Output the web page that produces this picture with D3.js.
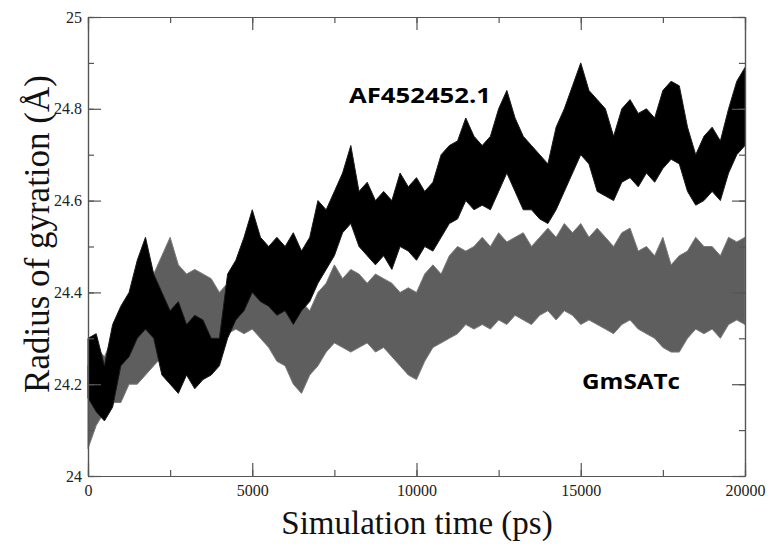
<!DOCTYPE html>
<html>
<head>
<meta charset="utf-8">
<script src="https://cdn.jsdelivr.net/npm/d3@7"></script>
<style>
    body { margin: 0; background: #fff; }
    text { font-family: "Liberation Serif", "Times New Roman", serif; }
</style>
</head>
<body>
<div id="chart"></div>
<script>

// time axis, one sample every 250 ps
let timePs = d3.range(0, 20001, 250);

// AF452452.1 (black) - upper / lower edge of the trace band
let afHigh = [24.30, 24.31, 24.24, 24.33, 24.37, 24.40, 24.47, 24.52, 24.44, 24.40,
    24.36, 24.38, 24.33, 24.35, 24.34, 24.30, 24.30, 24.44, 24.47, 24.52,
    24.58, 24.52, 24.50, 24.52, 24.50, 24.53, 24.49, 24.52, 24.60, 24.58,
    24.62, 24.66, 24.72, 24.62, 24.64, 24.60, 24.62, 24.60, 24.66, 24.63,
    24.65, 24.62, 24.64, 24.70, 24.72, 24.73, 24.78, 24.74, 24.72, 24.74,
    24.80, 24.84, 24.78, 24.74, 24.72, 24.70, 24.68, 24.76, 24.80, 24.85,
    24.90, 24.84, 24.82, 24.80, 24.74, 24.80, 24.82, 24.79, 24.80, 24.78,
    24.84, 24.86, 24.85, 24.76, 24.70, 24.74, 24.76, 24.73, 24.80, 24.86, 24.89];
let afLow = [24.17, 24.14, 24.12, 24.15, 24.24, 24.26, 24.30, 24.32, 24.30, 24.22,
    24.20, 24.18, 24.22, 24.19, 24.21, 24.22, 24.24, 24.30, 24.34, 24.36,
    24.40, 24.38, 24.37, 24.35, 24.36, 24.33, 24.36, 24.38, 24.42, 24.45,
    24.48, 24.53, 24.55, 24.50, 24.48, 24.46, 24.48, 24.45, 24.50, 24.49,
    24.47, 24.50, 24.49, 24.52, 24.55, 24.56, 24.60, 24.58, 24.59, 24.58,
    24.62, 24.66, 24.62, 24.58, 24.58, 24.56, 24.55, 24.58, 24.62, 24.66,
    24.70, 24.68, 24.62, 24.61, 24.60, 24.64, 24.65, 24.63, 24.66, 24.64,
    24.67, 24.69, 24.68, 24.62, 24.59, 24.60, 24.62, 24.60, 24.66, 24.70, 24.72];

// GmSATc (grey)
let gmHigh = [24.24, 24.28, 24.26, 24.30, 24.30, 24.34, 24.36, 24.40, 24.44, 24.48,
    24.52, 24.46, 24.44, 24.45, 24.44, 24.43, 24.40, 24.42, 24.44, 24.43,
    24.46, 24.43, 24.40, 24.38, 24.40, 24.37, 24.38, 24.36, 24.40, 24.42,
    24.46, 24.43, 24.45, 24.44, 24.42, 24.44, 24.43, 24.42, 24.40, 24.41,
    24.40, 24.44, 24.46, 24.44, 24.48, 24.50, 24.49, 24.50, 24.52, 24.50,
    24.53, 24.51, 24.52, 24.53, 24.50, 24.52, 24.54, 24.52, 24.55, 24.53,
    24.55, 24.52, 24.54, 24.52, 24.50, 24.53, 24.54, 24.49, 24.50, 24.48,
    24.52, 24.46, 24.48, 24.49, 24.52, 24.50, 24.50, 24.48, 24.52, 24.51, 24.52];
let gmLow = [24.06, 24.11, 24.14, 24.16, 24.16, 24.20, 24.20, 24.22, 24.24, 24.26,
    24.28, 24.27, 24.28, 24.29, 24.30, 24.30, 24.29, 24.31, 24.32, 24.31,
    24.32, 24.30, 24.28, 24.25, 24.24, 24.20, 24.18, 24.22, 24.24, 24.27,
    24.29, 24.28, 24.27, 24.28, 24.29, 24.27, 24.28, 24.26, 24.24, 24.22,
    24.21, 24.25, 24.28, 24.29, 24.30, 24.31, 24.33, 24.32, 24.33, 24.32,
    24.34, 24.33, 24.35, 24.34, 24.33, 24.35, 24.36, 24.34, 24.36, 24.35,
    24.33, 24.34, 24.33, 24.32, 24.31, 24.33, 24.34, 24.32, 24.31, 24.30,
    24.28, 24.27, 24.27, 24.30, 24.32, 24.31, 24.32, 24.30, 24.33, 24.34, 24.33];

let xTicks = [0, 5000, 10000, 15000, 20000];
let yTicks = [24, 24.2, 24.4, 24.6, 24.8, 25];

let vis = {};
vis.margin = {top: 17, right: 29, bottom: 71, left: 88};
vis.totalWidth = 774;
vis.totalHeight = 547;
vis.width = vis.totalWidth - vis.margin.left - vis.margin.right;
vis.height = vis.totalHeight - vis.margin.top - vis.margin.bottom;

vis.svg = d3.select("#chart")
    .append("svg")
    .attr("width", vis.totalWidth)
    .attr("height", vis.totalHeight)
    .style("background", "#fff");

vis.g = vis.svg.append("g")
    .attr("transform", `translate(${vis.margin.left}, ${vis.margin.top})`);

vis.x = d3.scaleLinear().domain([0, 20000]).range([0, vis.width]);
vis.y = d3.scaleLinear().domain([24, 25]).range([vis.height, 0]);

// build band rows from the arrays
function bandRows(high, low) {
    return timePs.map((t, i) => ({t: t, hi: high[i], lo: low[i]}));
}

let band = d3.area()
    .x(d => vis.x(d.t))
    .y0(d => vis.y(d.lo))
    .y1(d => vis.y(d.hi));

// grey drawn first, black sits on top
vis.g.append("path")
    .datum(bandRows(gmHigh, gmLow))
    .attr("d", band)
    .attr("fill", "#5e5e5e")
    .attr("stroke", "#7a7a7a")
    .attr("stroke-width", 1);

vis.g.append("path")
    .datum(bandRows(afHigh, afLow))
    .attr("d", band)
    .attr("fill", "#000")
    .attr("stroke", "#1a1a1a")
    .attr("stroke-width", 1);

// axes, ticks pointing inward on all four sides
let axisColor = "#555";
let minorX = d3.range(0, 20001, 2500);
let minorY = d3.range(0, 11).map(i => 24 + i * 0.1);

function styleAxis(sel) {
    sel.attr("font-family", "Liberation Serif, serif").attr("font-size", 16);
    sel.select(".domain").attr("stroke", axisColor).attr("stroke-width", 1.2);
    sel.selectAll(".tick line").attr("stroke", axisColor).attr("stroke-width", 1.2);
    sel.selectAll("text").attr("fill", "#222");
}

// minor ticks
vis.g.append("g").attr("transform", `translate(0, ${vis.height})`)
    .call(d3.axisBottom(vis.x).tickValues(minorX).tickSize(-6).tickFormat("").tickSizeOuter(0))
    .call(styleAxis);
vis.g.append("g")
    .call(d3.axisTop(vis.x).tickValues(minorX).tickSize(-6).tickFormat("").tickSizeOuter(0))
    .call(styleAxis);
vis.g.append("g")
    .call(d3.axisLeft(vis.y).tickValues(minorY).tickSize(-6).tickFormat("").tickSizeOuter(0))
    .call(styleAxis);
vis.g.append("g").attr("transform", `translate(${vis.width}, 0)`)
    .call(d3.axisRight(vis.y).tickValues(minorY).tickSize(-6).tickFormat("").tickSizeOuter(0))
    .call(styleAxis);

// major ticks + labels
vis.xAxis = vis.g.append("g").attr("transform", `translate(0, ${vis.height})`)
    .call(d3.axisBottom(vis.x).tickValues(xTicks).tickSize(-13).tickPadding(6).tickFormat(d3.format("d")).tickSizeOuter(0))
    .call(styleAxis);
vis.xAxis.selectAll("text").attr("dy", "0.85em");

vis.yAxis = vis.g.append("g")
    .call(d3.axisLeft(vis.y).tickValues(yTicks).tickSize(-13).tickPadding(6).tickFormat(d => d3.format("")(+d.toFixed(1))).tickSizeOuter(0))
    .call(styleAxis);

vis.g.append("g").attr("transform", `translate(${vis.width}, 0)`)
    .call(d3.axisRight(vis.y).tickValues(yTicks).tickSize(-13).tickFormat("").tickSizeOuter(0))
    .call(styleAxis);
vis.g.append("g")
    .call(d3.axisTop(vis.x).tickValues(xTicks).tickSize(-13).tickFormat("").tickSizeOuter(0))
    .call(styleAxis);

// axis titles
vis.svg.append("text")
    .attr("x", 417)
    .attr("y", 534)
    .attr("text-anchor", "middle")
    .style("font-size", "33px")
    .attr("fill", "#111")
    .text("Simulation time (ps)");

vis.svg.append("text")
    .attr("transform", "translate(49, 234) rotate(-90)")
    .attr("text-anchor", "middle")
    .style("font-size", "35px")
    .attr("fill", "#111")
    .text("Radius of gyration (Å)");

// series labels
vis.svg.append("text")
    .attr("x", 349)
    .attr("y", 103)
    .attr("textLength", 142)
    .attr("lengthAdjust", "spacingAndGlyphs")
    .style("font-family", "'Open Sans', sans-serif")
    .style("font-weight", "700")
    .style("font-size", "22px")
    .attr("fill", "#000")
    .text("AF452452.1");

vis.svg.append("text")
    .attr("x", 582)
    .attr("y", 389)
    .attr("textLength", 98)
    .attr("lengthAdjust", "spacingAndGlyphs")
    .style("font-family", "'Open Sans', sans-serif")
    .style("font-weight", "700")
    .style("font-size", "22px")
    .attr("fill", "#000")
    .text("GmSATc");

</script>
</body>
</html>
